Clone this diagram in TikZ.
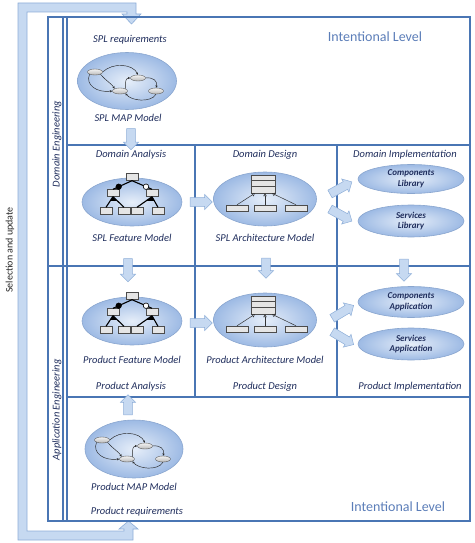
\documentclass[tikz,border=0pt]{standalone}
\usepackage{fontspec}
\setmainfont{Carlito}
\usepackage{xcolor}
\usetikzlibrary{shapes.geometric, shapes.arrows, arrows.meta, calc}
\definecolor{gridblue}{HTML}{4A76B4}
\definecolor{textnavy}{HTML}{1F2D5C}
\definecolor{levelblue}{HTML}{5B7DB8}
\definecolor{ellinner}{HTML}{E6EEF9}
\definecolor{ellouter}{HTML}{9DBAE4}
\definecolor{ellline}{HTML}{8AA6CF}
\definecolor{bandfill}{HTML}{C6D9F1}
\definecolor{bandline}{HTML}{8EAED8}

\newcommand{\mapglyph}[1]{%
  \begin{scope}[shift={(#1.center)}]
    \node[mini] (#1a) at (-32,-9) {};
    \node[mini] (#1b) at (11,-3) {};
    \node[mini] (#1c) at (-7,10) {};
    \node[mini] (#1d) at (29,10) {};
    \draw[link] (#1a.east) .. controls (-14,-19) and (6,-17) .. (#1b.north);
    \draw[link] (#1a.south west) .. controls (-42,4) and (-30,12) .. (#1c.west);
    \draw[link] (#1a.south east) .. controls (-22,-1) and (-15,3) .. (#1c.north west);
    \draw[link] (#1c.north east) .. controls (-2,0) and (-1,-3) .. (#1b.west);
    \draw[link] (#1b.east) .. controls (26,-4) and (31,0) .. (#1d.north);
    \draw[link] (#1d.south) .. controls (24,22) and (4,20) .. (#1c.south east);
  \end{scope}}

\newcommand{\featglyph}[1]{%
  \begin{scope}[shift={(#1.center)}]
    \node[fbox] (#1t) at (0,-25) {};
    \node[fbox] (#1l) at (-19,-9) {};
    \node[fbox] (#1r) at (20,-9) {};
    \node[fbox] (#1p) at (-26,9) {};
    \node[fbox] (#1q) at (-8,9) {};
    \node[fbox] (#1s) at (5,9) {};
    \node[fbox] (#1u) at (26,9) {};
    \draw[tree] (#1t.south) -- (#1l.north);
    \draw[tree] (#1t.south) -- (#1r.north);
    \draw[tree] (#1l.south) -- (#1p.north);
    \draw[tree] (#1l.south) -- (#1q.north);
    \draw[tree] (#1r.south) -- (#1s.north);
    \draw[tree] (#1r.south) -- (#1u.north);
    \fill (#1l.south) -- ($(#1l.south)!0.4!(#1p.north)$) -- ($(#1l.south)!0.4!(#1q.north)$) -- cycle;
    \fill (#1r.south) -- ($(#1r.south)!0.4!(#1s.north)$) -- ($(#1r.south)!0.4!(#1u.north)$) -- cycle;
    \node[fdot, fill=black] (#1m) at ($(#1t.south)!0.7!(#1l.north)$) {};
    \node[fdot, fill=white] (#1o) at ($(#1t.south)!0.7!(#1r.north)$) {};
  \end{scope}}

\newcommand{\archglyph}[1]{%
  \begin{scope}[shift={(#1.center)}]
    \node[cbox, minimum width=24pt, minimum height=18pt] (#1k) at (-2,-15) {};
    \draw[gray!60!black, line width=0.4pt] ($(#1k.north west)+(0,5)$) -- ($(#1k.north east)+(0,5)$);
    \draw[gray!60!black, line width=0.4pt] ($(#1k.north west)+(0,11)$) -- ($(#1k.north east)+(0,11)$);
    \node[cbox] (#1x) at (-28,9) {};
    \node[cbox] (#1y) at (0,9) {};
    \node[cbox] (#1z) at (31,9) {};
    \draw[inherit] (#1x.north) -- ($(#1k.south)+(-8,0)$);
    \draw[inherit] (#1y.north) -- ($(#1k.south)+(2,0)$);
    \draw[inherit] (#1z.north) -- ($(#1k.south)+(9,0)$);
  \end{scope}}

\begin{document}
\begin{tikzpicture}[
    x=1pt, y=-1pt,
    grid/.style={draw=gridblue, line width=1.2pt},
    model/.style={
        ellipse,
        draw=ellline,
        line width=0.6pt,
        inner color=ellinner,
        outer color=ellouter,
        inner sep=0pt
    },
    lib/.style={
        model,
        minimum width=106pt,
        minimum height=29pt,
        align=center,
        text=textnavy,
        font=\fontsize{9}{10.5}\selectfont\bfseries\itshape
    },
    lab/.style={text=textnavy, font=\fontsize{10.5}{12}\selectfont\itshape, inner sep=0pt},
    level/.style={text=levelblue, font=\fontsize{14}{16}\selectfont, inner sep=0pt},
    barrow/.style={
        single arrow,
        draw=bandline,
        fill=bandfill,
        line width=0.5pt,
        inner sep=4pt,
        minimum width=15pt,
        single arrow head extend=3pt
    },
    mini/.style={ellipse, draw=black!65, top color=gray!10, bottom color=gray!55, line width=0.4pt,
        inner sep=0pt, minimum width=15pt, minimum height=6pt},
    link/.style={-{Stealth[length=2.5pt,width=2.2pt]}, line width=0.45pt, black!85},
    fbox/.style={rectangle, draw=gray!60!black, fill=gray!20, line width=0.4pt,
        inner sep=0pt, minimum width=12pt, minimum height=7pt},
    tree/.style={line width=1.1pt, black},
    fdot/.style={circle, draw=black, line width=0.6pt, inner sep=0pt, minimum size=5.5pt},
    cbox/.style={rectangle, draw=gray!60!black, fill=gray!20, line width=0.4pt,
        inner sep=0pt, minimum width=22pt, minimum height=6pt},
    inherit/.style={-{Triangle[open,length=3pt,width=3.5pt]}, line width=0.5pt, black!80}
]
\useasboundingbox (0,0) rectangle (474,543);

\filldraw[draw=bandline, fill=bandfill, line width=0.6pt]
    (18,540) -- (18,3) -- (136,3) -- (136,14) -- (141,14) -- (131.5,24) -- (122,14)
    -- (127,14) -- (127,12) -- (27,12) -- (27,531) -- (124,531) -- (124,529)
    -- (119,529) -- (128.5,521) -- (138,529) -- (133,529) -- (133,540) -- cycle;
\node[rotate=90, font=\fontsize{10}{12}\selectfont, text=black!85, inner sep=0pt] (selupd) at (10,250) {Selection and update};

\draw[grid] (48,17) rectangle (470,521);
\draw[grid] (63,17) -- (63,521);
\draw[grid] (67,17) -- (67,521);
\draw[grid] (67,145) -- (470,145);
\draw[grid] (48,266) -- (470,266);
\draw[grid] (67,397) -- (470,397);
\draw[grid] (195,145) -- (195,397);
\draw[grid] (337,145) -- (337,397);

\node[lab, rotate=90] (domeng) at (57,144) {Domain Engineering};
\node[lab, rotate=90] (appeng) at (57,410) {Application Engineering};

\node[level] (leveltop) at (375,37) {Intentional Level};
\node[level] (levelbot) at (398,507) {Intentional Level};

\node[lab] (splreq) at (130,40) {SPL requirements};
\node[model, minimum width=99pt, minimum height=57pt] (splmap) at (127,81) {};
\node[lab] (splmaplab) at (128,118) {SPL MAP Model};
\mapglyph{splmap}

\node[lab] (domana) at (131,155) {Domain Analysis};
\node[lab] (domdes) at (265,155) {Domain Design};
\node[lab] (domimp) at (405,155) {Domain Implementation};

\node[model, minimum width=100pt, minimum height=48pt] (splfeat) at (132,202) {};
\node[lab] (splfeatlab) at (132,238) {SPL Feature Model};
\featglyph{splfeat}

\node[model, minimum width=103pt, minimum height=54pt] (splarch) at (265,199) {};
\node[lab] (splarchlab) at (265,238) {SPL Architecture Model};
\archglyph{splarch}

\node[lib] (complib) at (411,179) {Components\\Library};
\node[lib, minimum height=32pt] (servlib) at (411,221) {Services\\Library};

\node[model, minimum width=100pt, minimum height=48pt] (prodfeat) at (132,321) {};
\node[lab] (prodfeatlab) at (132,360) {Product Feature Model};
\featglyph{prodfeat}

\node[model, minimum width=103pt, minimum height=54pt] (prodarch) at (265,320) {};
\node[lab] (prodarchlab) at (265,360) {Product Architecture Model};
\archglyph{prodarch}

\node[lib, minimum height=31pt] (compapp) at (411,302) {Components\\Application};
\node[lib, minimum height=32pt] (servapp) at (411,344) {Services\\Application};

\node[lab] (prodana) at (131,387) {Product Analysis};
\node[lab] (proddes) at (265,387) {Product Design};
\node[lab] (prodimp) at (410,387) {Product Implementation};

\node[model, minimum width=98pt, minimum height=58pt] (prodmap) at (134,449) {};
\node[lab] (prodmaplab) at (134,487) {Product MAP Model};
\node[lab] (prodreq) at (137,512) {Product requirements};
\mapglyph{prodmap}

\node[barrow, minimum height=21pt, rotate=-90] (a1) at (131,137) {};
\node[barrow, minimum height=22pt] (a2) at (199,202) {};
\node[barrow, minimum height=25pt, rotate=29] (a3) at (339,189) {};
\node[barrow, minimum height=25pt, rotate=-29] (a4) at (339,214) {};
\node[barrow, minimum height=23pt, rotate=-90] (a5) at (128,268) {};
\node[barrow, minimum height=20pt, rotate=-90] (a6) at (266,266) {};
\node[barrow, minimum height=22pt, rotate=-90] (a7) at (404,268) {};
\node[barrow, minimum height=22pt] (a8) at (199,323) {};
\node[barrow, minimum height=25pt, rotate=31] (a9) at (341,313) {};
\node[barrow, minimum height=25pt, rotate=-31] (a10) at (341,337) {};
\node[barrow, minimum height=20pt, rotate=90] (a11) at (128,407) {};

\end{tikzpicture}
\end{document}
